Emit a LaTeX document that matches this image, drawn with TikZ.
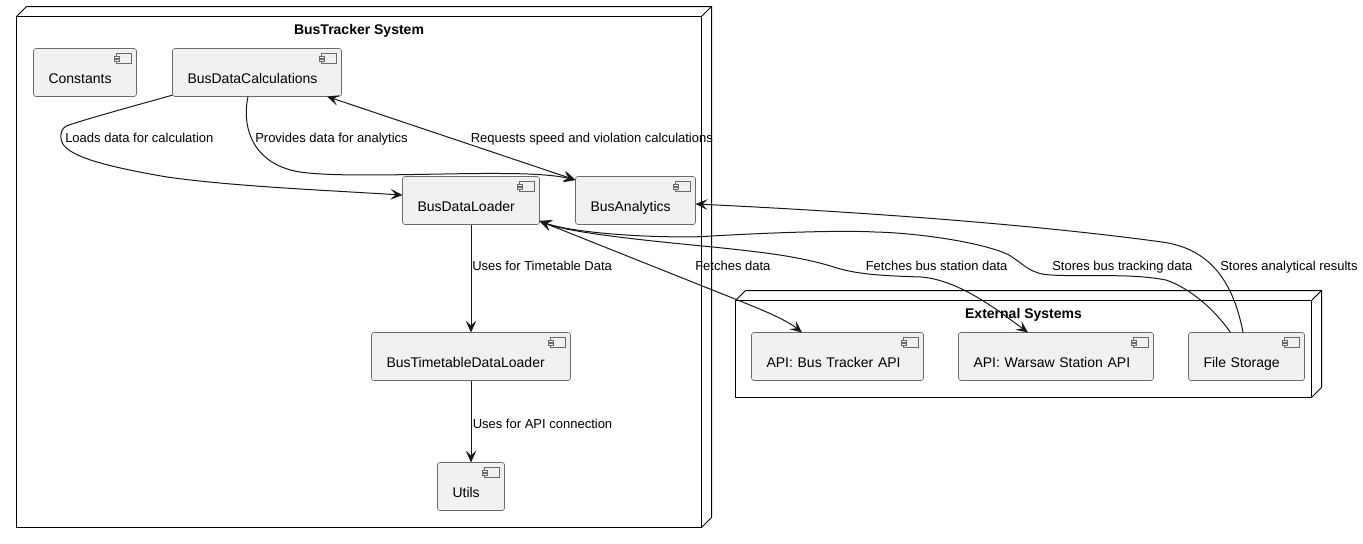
\documentclass[tikz,border=0pt]{standalone}
\usepackage{fontspec}
\setmainfont{Liberation Sans}
\usetikzlibrary{positioning, calc, arrows.meta}
\definecolor{compfill}{HTML}{F1F1F1}
\definecolor{compline}{HTML}{6A6A6A}
\definecolor{linkline}{HTML}{181818}

\begin{document}
\begin{tikzpicture}[x=0.75pt,y=-0.75pt,>={Stealth[length=9pt,width=8pt,inset=3.8pt]},
    compbox/.style={draw=compline,line width=0.5pt,fill=compfill,rounded corners=1.9pt,outer sep=0pt,inner ysep=0pt,inner xsep=11.25pt,
        text width=#1,align=left,text height=26.25pt,text depth=9.75pt,font=\fontsize{10.5}{12}\selectfont},
    framebox/.style={draw=black,line width=0.75pt,anchor=north west,outer sep=0pt,inner sep=0pt},
    frametitle/.style={anchor=base,font=\fontsize{10.5}{12}\selectfont\bfseries},
    edgelabel/.style={anchor=base west,inner sep=0pt,font=\fontsize{9.75}{12}\selectfont},
    link/.style={linkline,line width=0.75pt}]
    \useasboundingbox (0,0) rectangle (1363,543);

    \node [framebox,minimum width=513.75pt,minimum height=383.25pt] (bustracker) at (16.5,16.5) {};
    \node [framebox,minimum width=432pt,minimum height=72.75pt] (external) at (735.5,300.5) {};
    \foreach \name in {bustracker,external} {
        \draw [black,line width=0.75pt] (\name.north west) -- ++(10,-10) -- ([shift={(10,-10)}]\name.north east) -- ([shift={(10,-10)}]\name.south east) -- (\name.south east);
        \draw [black,line width=0.75pt] (\name.north east) -- ++(10,-10);
    }
    \node [frametitle] (bustrackertitle) at ([yshift=-13.6pt]bustracker.north) {BusTracker System};
    \node [frametitle] (externaltitle) at ([yshift=-13.6pt]external.north) {External Systems};

    \node [compbox=54.75pt,anchor=north west] (constants) at (33.5,48.5) {Constants};
    \node [compbox=104.25pt,right=27pt of constants] (calculations) {BusDataCalculations};
    \node [compbox=80.25pt,anchor=north west] (loader) at (402.5,176.5) {BusDataLoader};
    \node [compbox=67.5pt,right=27pt of loader] (analytics) {BusAnalytics};
    \node [compbox=126.75pt,below=81pt of loader] (timetable) {BusTimetableDataLoader};
    \node [compbox=27.75pt,below=61.5pt of timetable] (utils) {Utils};
    \node [compbox=106.5pt,anchor=north west] (trackerapi) at (751.5,332.5) {API: Bus Tracker API};
    \node [compbox=123.75pt,right=26.25pt of trackerapi] (warsawapi) {API: Warsaw Station API};
    \node [compbox=64.5pt,right=26.25pt of warsawapi] (storage) {File Storage};

    % small component icons
    \foreach \name in {constants,calculations,loader,analytics,timetable,utils,trackerapi,warsawapi,storage} {
        \draw [compline,line width=0.5pt] ([shift={(-20,5)}]\name.north east) rectangle ++(15,10);
        \draw [compline,line width=0.5pt,fill=compfill] ([shift={(-22.5,7.5)}]\name.north east) rectangle ++(5,2);
        \draw [compline,line width=0.5pt,fill=compfill] ([shift={(-22.5,11)}]\name.north east) rectangle ++(5,2);
    }

    \draw [link,->] (calculations.195) .. controls (130,107) and (90,118) .. (69,125) .. controls (60,128) and (61,134) .. (61,138)
        .. controls (62,152) and (85,163) .. (167,177) .. controls (230,186) and (320,190) .. ([yshift=4.1pt]loader.west);
    \draw [link,->] ([xshift=-6.75pt]calculations.south) .. controls (241,130) and (255,165) .. (300,172)
        .. controls (340,178) and (440,173) .. (500,173.5) .. controls (530,173.5) and (555,175) .. ([yshift=-2.6pt]analytics.north west);
    \draw [link,<->] ([xshift=52.5pt]calculations.south) -- ([yshift=-2.6pt]analytics.north west);
    \draw [link,->] (loader.south) -- (timetable.north);
    \draw [link,->] (timetable.south) -- (utils.north);
    \draw [link,<->] ([yshift=2.6pt]loader.south east) -- (735,299) .. controls (760,309) and (785,319) .. ([xshift=-26.6pt]trackerapi.north);
    \draw [link,<->] ([yshift=2.6pt]loader.south east) .. controls (570,233) and (650,241) .. (713,247)
        .. controls (760,252) and (800,256) .. (837,268) .. controls (860,275) and (890,276) .. (921,277)
        .. controls (960,280) and (1000,312) .. ([xshift=-21pt]warsawapi.north);
    \draw [link,<-] ([yshift=2.6pt]loader.south east) .. controls (570,232) and (640,238) .. (700,236.7)
        .. controls (760,233) and (840,230) .. (875,232) .. controls (920,233) and (985,243) .. (1009,255)
        .. controls (1025,265) and (1030,274) .. (1051,275) .. controls (1085,277) and (1130,273) .. (1166,280)
        .. controls (1190,288) and (1215,310) .. ([xshift=-12pt]storage.north);
    \draw [link,<-] ([yshift=-2.6pt]analytics.east) .. controls (800,209) and (1000,220) .. (1162,242)
        .. controls (1205,248) and (1232,275) .. ([xshift=-2.6pt]storage.north);

    \node [edgelabel] (loadslabel) at (65,142) {Loads data for calculation};
    \node [edgelabel] (provideslabel) at (255,142) {Provides data for analytics};
    \node [edgelabel] (requestslabel) at (470.5,142) {Requests speed and violation calculations};
    \node [edgelabel] (timetablelabel) at (472,270) {Uses for Timetable Data};
    \node [edgelabel] (fetcheslabel) at (695,270) {Fetches data};
    \node [edgelabel] (stationlabel) at (865.5,270) {Fetches bus station data};
    \node [edgelabel] (trackinglabel) at (1052,270) {Stores bus tracking data};
    \node [edgelabel] (resultslabel) at (1220,270) {Stores analytical results};
    \node [edgelabel] (connectionlabel) at (472.5,428) {Uses for API connection};
\end{tikzpicture}
\end{document}
